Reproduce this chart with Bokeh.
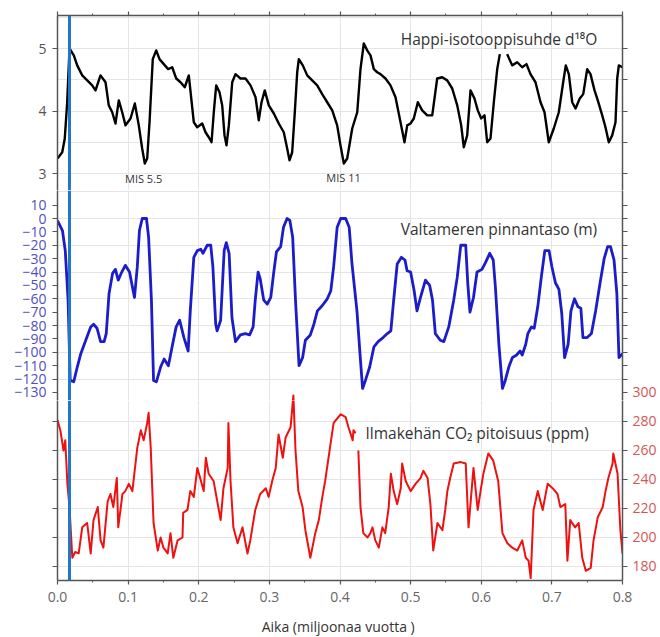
import numpy as np
from bokeh.plotting import figure
from bokeh.models import Range1d, Span, Label, FixedTicker, LinearAxis
from bokeh.layouts import column
from bokeh.embed import file_html
from bokeh.resources import INLINE

nan = float("nan")

# ---------------- data ----------------
d18o_age = [0.000, 0.0067, 0.0103, 0.0137, 0.0170, 0.0231, 0.0279, 0.0350, 0.0421, 0.0491,
            0.0538, 0.0609, 0.0680, 0.0726, 0.0775, 0.0821, 0.0868, 0.0916, 0.0963, 0.1034,
            0.1095, 0.1151, 0.1199, 0.1236, 0.1270, 0.1303, 0.1349, 0.1398, 0.1444, 0.1505,
            0.1567, 0.1624, 0.1681, 0.1742, 0.1802, 0.1859, 0.1897, 0.1930, 0.1978, 0.2049,
            0.2096, 0.2142, 0.2181, 0.2213, 0.2247, 0.2294, 0.2332, 0.2365, 0.2393, 0.2426,
            0.2474, 0.2520, 0.2591, 0.2662, 0.2733, 0.2804, 0.2850, 0.2889, 0.2935, 0.2992,
            0.3063, 0.3133, 0.3204, 0.3252, 0.3285, 0.3323, 0.3360, 0.3394, 0.3417, 0.3473,
            0.3536, 0.3606, 0.3677, 0.3748, 0.3819, 0.3890, 0.3960, 0.4007, 0.4054, 0.4102,
            0.4173, 0.4244, 0.4290, 0.4337, 0.4385, 0.4432, 0.4479, 0.4527, 0.4573, 0.4644,
            0.4715, 0.4786, 0.4857, 0.4913, 0.4952, 0.4998, 0.5045, 0.5102, 0.5164, 0.5235,
            0.5306, 0.5376, 0.5447, 0.5518, 0.5589, 0.5660, 0.5716, 0.5753, 0.5801, 0.5848,
            0.5904, 0.5951, 0.5999, 0.6046, 0.6084, 0.6131, 0.6178, 0.6226, 0.6263, 0.6315,
            0.6367, 0.6438, 0.6509, 0.6580, 0.6641, 0.6697, 0.6768, 0.6839, 0.6896, 0.6956,
            0.7027, 0.7098, 0.7160, 0.7197, 0.7240, 0.7288, 0.7335, 0.7395, 0.7444, 0.7500,
            0.7547, 0.7604, 0.7650, 0.7713, 0.7759, 0.7806, 0.7854, 0.7901, 0.7925, 0.7948,
            0.8000]
d18o_val = [3.24, 3.34, 3.56, 4.14, 5.00, 4.89, 4.73, 4.57, 4.49, 4.41,
            4.33, 4.57, 4.46, 4.09, 3.98, 3.80, 4.17, 3.98, 3.77, 3.88,
            4.12, 3.77, 3.40, 3.16, 3.24, 3.82, 4.83, 4.97, 4.83, 4.75,
            4.67, 4.70, 4.52, 4.46, 4.38, 4.57, 4.17, 3.82, 3.74, 3.80,
            3.66, 3.58, 3.50, 3.98, 4.41, 4.30, 4.09, 3.61, 3.45, 3.77,
            4.46, 4.59, 4.52, 4.52, 4.41, 4.22, 3.85, 4.14, 4.33, 4.09,
            3.96, 3.80, 3.66, 3.40, 3.21, 3.34, 3.98, 4.62, 4.83, 4.73,
            4.57, 4.49, 4.41, 4.27, 4.14, 4.01, 3.77, 3.45, 3.16, 3.24,
            3.72, 3.98, 4.67, 5.08, 4.97, 4.89, 4.67, 4.62, 4.59, 4.52,
            4.41, 4.22, 3.82, 3.50, 3.77, 3.80, 3.88, 4.14, 4.01, 3.93,
            3.93, 4.52, 4.54, 4.49, 4.36, 4.09, 3.77, 3.42, 3.61, 4.33,
            4.20, 4.01, 3.88, 3.93, 3.50, 3.56, 4.14, 4.67, 4.91, nan,
            4.91, 4.73, 4.78, 4.70, 4.75, 4.59, 4.46, 4.14, 3.98, 3.50,
            3.72, 3.98, 4.46, 4.73, 4.59, 4.14, 4.04, 4.20, 4.27, 4.67,
            4.59, 4.33, 4.17, 3.93, 3.74, 3.50, 3.61, 3.82, 4.52, 4.73,
            4.70]

sea_age = [0.000, 0.007, 0.011, 0.015, 0.018, 0.023, 0.028, 0.033, 0.040, 0.047,
           0.051, 0.056, 0.061, 0.066, 0.069, 0.073, 0.078, 0.082, 0.086, 0.091,
           0.096, 0.102, 0.106, 0.109, 0.113, 0.116, 0.120, 0.126, 0.129, 0.133,
           0.136, 0.140, 0.146, 0.151, 0.157, 0.163, 0.168, 0.173, 0.179, 0.185,
           0.188, 0.193, 0.198, 0.203, 0.206, 0.212, 0.217, 0.220, 0.224, 0.226,
           0.231, 0.236, 0.239, 0.243, 0.247, 0.252, 0.259, 0.266, 0.272, 0.277,
           0.280, 0.284, 0.287, 0.292, 0.297, 0.302, 0.306, 0.310, 0.316, 0.320,
           0.325, 0.329, 0.333, 0.337, 0.342, 0.347, 0.351, 0.358, 0.363, 0.368,
           0.375, 0.382, 0.387, 0.391, 0.396, 0.401, 0.408, 0.413, 0.417, 0.424,
           0.429, 0.432, 0.436, 0.442, 0.448, 0.454, 0.461, 0.467, 0.472, 0.476,
           0.481, 0.487, 0.492, 0.495, 0.500, 0.505, 0.509, 0.514, 0.521, 0.527,
           0.531, 0.535, 0.542, 0.547, 0.554, 0.561, 0.566, 0.571, 0.578, 0.581,
           0.584, 0.589, 0.594, 0.601, 0.606, 0.612, 0.617, 0.620, 0.625, 0.630,
           0.634, 0.639, 0.644, 0.650, 0.655, 0.658, 0.663, 0.666, 0.671, 0.675,
           0.680, 0.685, 0.690, 0.696, 0.700, 0.705, 0.710, 0.714, 0.718, 0.723,
           0.727, 0.732, 0.737, 0.741, 0.744, 0.750, 0.756, 0.762, 0.768, 0.774,
           0.779, 0.783, 0.788, 0.792, 0.795, 0.800]
sea_val = [-1.5, -9, -24, -61, -121, -122, -111, -101, -91, -81,
           -79, -82, -92, -92, -86, -56, -41, -38, -46, -40,
           -35, -40, -51, -59, -36, -9, 0, 0, -14, -61,
           -121, -122, -111, -105, -110, -94, -81, -76, -89, -99,
           -69, -29, -24, -23, -26, -20, -20, -36, -79, -84,
           -76, -24, -18, -26, -74, -92, -87, -86, -87, -81,
           -61, -40, -45, -61, -64, -59, -41, -25, -21, -6.5,
           0, -1.5, -14, -61, -110, -104, -91, -87, -79, -69,
           -65, -60, -54, -36, -6.5, 0, 0, -6.5, -34, -69,
           -106, -127, -121, -111, -96, -92, -89, -86, -84, -61,
           -34, -29, -31, -39, -40, -54, -69, -59, -46, -50,
           -61, -86, -91, -92, -81, -61, -44, -20, -20, -49,
           -70, -59, -40, -38, -33, -26, -31, -51, -94, -127,
           -121, -111, -104, -102, -99, -102, -94, -86, -81, -82,
           -66, -44, -24, -24, -36, -48, -53, -71, -104, -94,
           -69, -60, -66, -67, -89, -89, -86, -69, -49, -30,
           -21, -21, -31, -56, -104, -101]

co2_age = [0.000, 0.004, 0.0085, 0.011, 0.014, 0.017, 0.021, 0.025, 0.030, 0.035,
           0.042, 0.047, 0.051, 0.057, 0.061, 0.065, 0.071, 0.075, 0.079, 0.084,
           0.086, 0.092, 0.096, 0.101, 0.106, 0.113, 0.118, 0.122, 0.127, 0.129,
           0.132, 0.136, 0.142, 0.146, 0.150, 0.156, 0.160, 0.164, 0.170, 0.177,
           0.178, 0.184, 0.188, 0.193, 0.198, 0.202, 0.207, 0.210, 0.214, 0.221,
           0.231, 0.235, 0.241, 0.242, 0.245, 0.249, 0.255, 0.262, 0.269, 0.273,
           0.280, 0.287, 0.295, 0.299, 0.304, 0.309, 0.313, 0.319, 0.323, 0.330,
           0.334, 0.337, 0.341, 0.347, 0.351, 0.358, 0.365, 0.370, 0.375, 0.379,
           0.387, 0.391, 0.401, 0.408, 0.412, 0.418, 0.419, 0.422, 0.424, 0.426,
           0.429, 0.433, 0.439, 0.443, 0.446, 0.450, 0.455, 0.460, 0.464, 0.469,
           0.472, 0.476, 0.481, 0.486, 0.488, 0.493, 0.500, 0.507, 0.514, 0.518,
           0.524, 0.528, 0.532, 0.538, 0.545, 0.549, 0.552, 0.556, 0.561, 0.571,
           0.578, 0.582, 0.589, 0.595, 0.599, 0.603, 0.610, 0.617, 0.624, 0.630,
           0.637, 0.644, 0.651, 0.658, 0.663, 0.667, 0.670, 0.674, 0.680, 0.687,
           0.694, 0.701, 0.708, 0.712, 0.719, 0.722, 0.726, 0.733, 0.738, 0.743,
           0.748, 0.755, 0.759, 0.765, 0.772, 0.776, 0.780, 0.786, 0.787, 0.793,
           0.797, 0.800]
co2_val = [281, 274, 260, 267, 237, 221, 186, 190, 189, 207,
           210, 189, 212, 221, 198, 193, 225, 230, 221, 241,
           207, 230, 232, 237, 232, 262, 274, 267, 279, 286,
           262, 210, 191, 200, 193, 189, 203, 186, 198, 200,
           217, 219, 232, 228, 248, 241, 232, 255, 244, 239,
           212, 234, 248, 279, 239, 207, 196, 207, 189, 198,
           219, 230, 234, 228, 239, 248, 271, 255, 269, 276,
           298, 260, 232, 221, 205, 186, 203, 212, 228, 239,
           266, 279, 285, 283, 276, 267, 274, 272, nan, 260,
           221, 203, 200, 203, 207, 198, 193, 207, 203, 221,
           244, 232, 223, 234, 251, 239, 232, 237, 241, 246,
           241, 223, 191, 210, 205, 219, 232, 241, 251, 252,
           251, 207, 248, 219, 232, 244, 258, 253, 239, 203,
           196, 193, 191, 198, 186, 184, 172, 219, 232, 219,
           237, 234, 230, 221, 223, 184, 212, 207, 210, 186,
           177, 179, 198, 214, 221, 232, 241, 251, 258, 244,
           205, 189]

# ---------------- ticks and labels ----------------
age_ticks = [0.0, 0.1, 0.2, 0.3, 0.4, 0.5, 0.6, 0.7, 0.8]
age_tick_labels = ["0.0", "0.1", "0.2", "0.3", "0.4", "0.5", "0.6", "0.7", "0.8"]
age_minor_ticks = [0.05, 0.15, 0.25, 0.35, 0.45, 0.55, 0.65, 0.75]
d18o_ticks = [3, 4, 5]
d18o_tick_labels = ["3", "4", "5"]
d18o_right_ticks = [3, 3.5, 4, 4.5, 5]
sea_ticks = [10, 0, -10, -20, -30, -40, -50, -60, -70, -80, -90, -100, -110, -120, -130]
sea_tick_labels = ["10", "0", "\u221210", "\u221220", "\u221230", "\u221240", "\u221250", "\u221260",
                   "\u221270", "\u221280", "\u221290", "\u2212100", "\u2212110", "\u2212120", "\u2212130"]
co2_ticks = [180, 200, 220, 240, 260, 280, 300]
co2_tick_labels = ["180", "200", "220", "240", "260", "280", "300"]

present_age = 0.017

# ---------------- styling ----------------
FONT = "Open Sans"
AX = "#555555"
TXT = "#333333"
BLUE_LBL = "#4f4fc0"
RED_LBL = "#d45656"

xr = Range1d(0, 0.8)
d18o_range = Range1d(2.728, 5.528)
sea_range = Range1d(-136.0, 20.93)
co2_mid_range = Range1d(294.48, 439.31)
co2_range = Range1d(170.34, 294.48)


def make_fig(fh, yr, top, bottom):
    p = figure(frame_width=565, frame_height=fh, x_range=xr, y_range=yr,
               output_backend="svg", toolbar_location=None,
               x_axis_location=None, y_axis_location=None,
               min_border_left=57, min_border_right=38, min_border_top=top,
               min_border_bottom=bottom)
    p.outline_line_color = None
    p.background_fill_color = "white"
    p.border_fill_color = "white"
    return p


def add_axis(p, side, ticks, labels=None, color=AX, size="14px", minor=None,
             tick_out=5, range_name="default", standoff=6):
    ticker = FixedTicker(ticks=ticks, minor_ticks=minor or [])
    if side in ("left", "right"):
        ax = LinearAxis(ticker=ticker, y_range_name=range_name)
    else:
        ax = LinearAxis(ticker=ticker)
    ax.axis_line_color = AX
    ax.axis_line_width = 1.5
    ax.major_tick_line_color = AX
    ax.major_tick_line_width = 1.2
    ax.major_tick_in = 0
    ax.major_tick_out = tick_out
    ax.minor_tick_line_color = AX
    ax.minor_tick_in = 0
    ax.minor_tick_out = 2
    if labels is None:
        ax.major_label_overrides = {t: "" for t in ticks}
        ax.major_label_text_font_size = "0px"
        ax.major_label_standoff = 0
    else:
        ax.major_label_overrides = dict(zip(ticks, labels))
        ax.major_label_text_font_size = size
        ax.major_label_text_color = color
        ax.major_label_text_font = FONT
        ax.major_label_standoff = standoff
    p.add_layout(ax, side)
    return ax


def add_present(p):
    p.add_layout(Span(location=present_age, dimension="height",
                      line_color="#1f78c8", line_width=3))


# ---------------- top panel: d18O ----------------
p1 = make_fig(175, d18o_range, 15, 0)
add_axis(p1, "above", age_ticks, None, minor=age_minor_ticks, tick_out=4)
add_axis(p1, "left", d18o_ticks, d18o_tick_labels, color="#555555", size="14px")
add_axis(p1, "right", d18o_right_ticks, None, tick_out=5)
p1.line(d18o_age, d18o_val, line_color="black", line_width=2.4, line_join="round")
add_present(p1)
p1.add_layout(Label(x=0.486, y=5.16, text="Happi-isotooppisuhde d\u00b9\u2078O",
                    text_font=FONT, text_font_size="15.5px", text_color=TXT,
                    text_baseline="middle"))
p1.add_layout(Label(x=0.122, y=2.92, text="MIS 5.5", text_font=FONT,
                    text_font_size="11px", text_color=TXT, text_align="center",
                    text_baseline="middle"))
p1.add_layout(Label(x=0.405, y=2.93, text="MIS 11", text_font=FONT,
                    text_font_size="11px", text_color=TXT, text_align="center",
                    text_baseline="middle"))

# ---------------- middle panel: sea level ----------------
p2 = make_fig(210, sea_range, 0, 0)
p2.extra_y_ranges = {"co2": co2_mid_range}
add_axis(p2, "left", sea_ticks, sea_tick_labels, color=BLUE_LBL, size="14px")
mid_right_labels = [""] * (len(sea_ticks) - 1) + [co2_tick_labels[-1]]
add_axis(p2, "right", sea_ticks, mid_right_labels, color=RED_LBL, size="14px",
         tick_out=5, standoff=5)
p2.line(sea_age, sea_val, line_color="#1c1cc8", line_width=2.8, line_join="round")
p2.line(np.array(co2_age), np.array(co2_val), y_range_name="co2",
        line_color="#ee1111", line_width=2, line_join="round")
add_present(p2)
p2.add_layout(Label(x=0.486, y=-7.5, text="Valtameren pinnantaso (m)",
                    text_font=FONT, text_font_size="15.5px", text_color=TXT,
                    text_baseline="middle"))

# ---------------- bottom panel: CO2 ----------------
p3 = make_fig(180, co2_range, 0, 57)
low_ticks = [t for t in co2_ticks if t <= co2_range.end]
low_labels = [l for t, l in zip(co2_ticks, co2_tick_labels) if t <= co2_range.end]
add_axis(p3, "left", low_ticks, None, tick_out=5)
add_axis(p3, "right", low_ticks, low_labels, color=RED_LBL, size="14px",
         tick_out=5, standoff=5)
bx = add_axis(p3, "below", age_ticks, age_tick_labels, color="#666666", size="14px",
              minor=age_minor_ticks, tick_out=4, standoff=7)
bx.axis_label = "Aika  (miljoonaa vuotta )"
bx.axis_label_text_font = FONT
bx.axis_label_text_font_size = "14px"
bx.axis_label_text_font_style = "normal"
bx.axis_label_text_color = TXT
bx.axis_label_standoff = 12
p3.line(np.array(co2_age), np.array(co2_val), line_color="#ee1111", line_width=2,
        line_join="round")
add_present(p3)
p3.add_layout(Label(x=0.436, y=272, text="Ilmakeh\u00e4n CO\u2082 pitoisuus (ppm)",
                    text_font=FONT, text_font_size="15.5px", text_color=TXT,
                    text_baseline="middle"))

layout = column(p1, p2, p3, spacing=0)
open("out.html", "w").write(file_html(layout, INLINE))
